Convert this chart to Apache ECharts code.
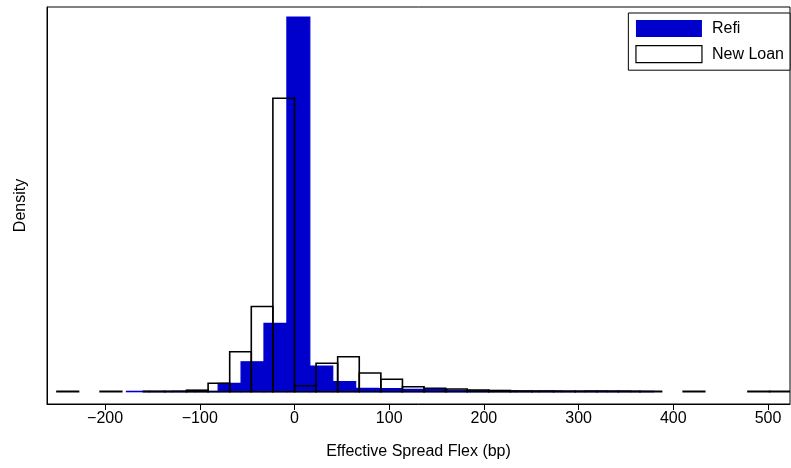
<!DOCTYPE html>
<html>
<head>
<meta charset="utf-8">
<script src="https://cdn.jsdelivr.net/npm/echarts@6/dist/echarts.min.js"></script>
<style>
html,body{margin:0;padding:0;background:#fff;}
#chart{width:791px;height:468px;}
</style>
</head>
<body>
<div id="chart"></div>
<script>
// Histogram definitions (bin lower edge of first bin, bin width) and densities
const refiStart = -177.4;
const refiWidth = 24.2;
const refiDensity = [
  0.000031, 0.000031, 0.000047, 0.000039, 0.000655, 0.00234, 0.00533, 0.02925,
  0.00200, 0.00078, 0.000265, 0.00025, 0.00018, 0.000156, 0.000109, 0.000078,
  0.000062, 0.000055, 0.000062, 0.000047, 0.000062, 0.000055, 0.000031
];
const newStart = -250.8;
const newWidth = 22.8;
const newDensity = [
  0.000031, 0, 0.000031, 0, 0.000031, 0.000031, 0.000117, 0.000655,
  0.00312, 0.00665, 0.02291, 0.000468, 0.00222, 0.00273, 0.00146, 0.000967,
  0.00039, 0.000273, 0.000211, 0.000133, 0.000094, 0.000055, 0.000047, 0.000039,
  0.000039, 0.000039, 0.000039, 0.000031, 0, 0.000031, 0, 0, 0.000031, 0.000031
];
const xTicks = [-200, -100, 0, 100, 200, 300, 400, 500];
const seriesNames = ['Refi', 'New Loan'];

function toBins(start, width, dens) {
  return dens.map((d, i) => [start + i * width, start + (i + 1) * width, d]);
}

function makeRender(styleFn) {
  return function (params, api) {
    const x0 = api.value(0), x1 = api.value(1), y = api.value(2);
    if (!y) return null;
    const p0 = api.coord([x0, 0]);
    const p1 = api.coord([x1, y]);
    return {
      type: 'rect',
      shape: { x: p0[0], y: p1[1], width: p1[0] - p0[0], height: p0[1] - p1[1] },
      style: styleFn()
    };
  };
}

const chart = echarts.init(document.getElementById('chart'), null, { renderer: 'canvas' });
const FONT = '"Liberation Sans", Arial, Helvetica, sans-serif';
chart.setOption({
  animation: false,
  backgroundColor: '#fff',
  textStyle: { fontFamily: FONT },
  grid: { left: 47, right: 1, top: 7, bottom: 64, show: true, borderColor: '#000', borderWidth: 1, backgroundColor: 'transparent' },
  legend: {
    right: 1, top: 13, orient: 'vertical',
    itemWidth: 66, itemHeight: 17, itemGap: 8,
    padding: [7, 6, 7, 7],
    borderColor: '#000', borderWidth: 1, backgroundColor: '#fff',
    icon: 'rect',
    textStyle: { fontSize: 16, color: '#000', fontFamily: FONT, padding: [0, 0, 0, 5] },
    data: [
      { name: seriesNames[0], itemStyle: { color: '#0000cd', borderWidth: 0 } },
      { name: seriesNames[1], itemStyle: { color: '#fff', borderColor: '#000', borderWidth: 1.2 } }
    ]
  },
  xAxis: {
    type: 'value', min: -261.3, max: 523.2,
    axisLine: { show: true, onZero: false, lineStyle: { color: '#000', width: 1 } },
    axisTick: { show: true, customValues: xTicks, length: 6, lineStyle: { color: '#000' } },
    axisLabel: { customValues: xTicks, fontSize: 16, color: '#000', margin: 7, fontFamily: FONT,
      formatter: v => String(v).replace('-', '\u2212') },
    splitLine: { show: false },
    name: 'Effective Spread Flex (bp)', nameLocation: 'middle', nameGap: 40,
    nameTextStyle: { fontSize: 16, color: '#000', fontFamily: FONT }
  },
  yAxis: {
    type: 'value', min: -0.00096, max: 0.03003,
    axisLine: { show: true, onZero: false, lineStyle: { color: '#000' } },
    axisTick: { show: false }, axisLabel: { show: false }, splitLine: { show: false },
    name: 'Density', nameLocation: 'middle', nameGap: 18,
    nameTextStyle: { fontSize: 16, color: '#000', fontFamily: FONT }
  },
  series: [
    {
      name: seriesNames[0], type: 'custom', clip: true,
      itemStyle: { color: '#0000cd' },
      encode: { x: [0, 1], y: 2 },
      data: toBins(refiStart, refiWidth, refiDensity),
      renderItem: makeRender(() => ({ fill: '#0000cd', stroke: '#0000cd', lineWidth: 1.2 }))
    },
    {
      name: seriesNames[1], type: 'custom', clip: true,
      itemStyle: { color: '#fff', borderColor: '#000' },
      encode: { x: [0, 1], y: 2 },
      data: toBins(newStart, newWidth, newDensity),
      renderItem: makeRender(() => ({ fill: null, stroke: '#000', lineWidth: 1.6 }))
    }
  ]
});
</script>
</body>
</html>
